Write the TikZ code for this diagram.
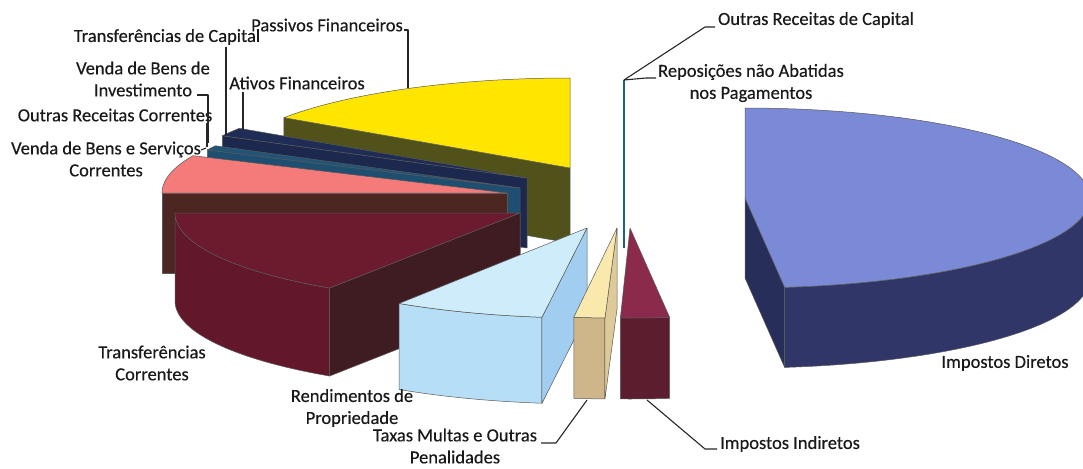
\documentclass[tikz,border=0pt]{standalone}
\usepackage{fontspec}
\setmainfont{Carlito}
\newfontfamily\lblfont{Carlito}[FakeBold=0.35]
\definecolor{dirTop}{RGB}{122,138,214}
\definecolor{dirWall}{RGB}{48,55,104}
\definecolor{dirSide}{RGB}{40,46,90}
\definecolor{indTop}{RGB}{140,42,76}
\definecolor{indWall}{RGB}{92,30,46}
\definecolor{taxTop}{RGB}{250,233,172}
\definecolor{taxWall}{RGB}{206,182,138}
\definecolor{taxSide}{RGB}{222,202,152}
\definecolor{renTop}{RGB}{206,236,250}
\definecolor{renWall}{RGB}{182,222,246}
\definecolor{renSide}{RGB}{160,205,240}
\definecolor{traTop}{RGB}{108,26,46}
\definecolor{traWall}{RGB}{98,24,42}
\definecolor{traSide}{RGB}{62,28,34}
\definecolor{pinkTop}{RGB}{245,122,122}
\definecolor{pinkSide}{RGB}{76,38,32}
\definecolor{tealTop}{RGB}{34,84,120}
\definecolor{tealSide}{RGB}{30,78,112}
\definecolor{navyTop}{RGB}{30,44,86}
\definecolor{navySide}{RGB}{28,40,78}
\definecolor{yelTop}{RGB}{255,230,0}
\definecolor{yelSide}{RGB}{80,82,26}
\definecolor{tinyCol}{RGB}{28,100,122}
\newcommand\PieA{345}
\newcommand\PieB{90}
\tikzset{
  faceline/.style={draw=black!65, line width=0.5pt, line join=round},
  leader/.style={draw=black!85, line width=1.1pt, line join=round},
  lbl/.style={font=\lblfont\fontsize{18.5}{22}\selectfont, text=black!90, inner sep=0pt, align=center},
}
% top face: cx, cy, t1, t2, colour
\newcommand\pieTop[5]{\path[faceline, fill=#5] (#1,#2) -- plot[domain=#3:#4,samples=60] ({#1+\PieA*cos(\x)},{#2-\PieB*sin(\x)}) -- cycle;}
% radial wall: cx, cy, t, h, colour
\newcommand\pieSide[5]{\path[faceline, fill=#5] (#1,#2) -- ({#1+\PieA*cos(#3)},{#2-\PieB*sin(#3)}) -- ({#1+\PieA*cos(#3)},{#2-\PieB*sin(#3)+#4}) -- (#1,{#2+#4}) -- cycle;}
% outer wall: cx, cy, t1, t2, h, colour
\newcommand\pieOuter[6]{\path[faceline, fill=#6] plot[domain=#3:#4,samples=60] ({#1+\PieA*cos(\x)},{#2-\PieB*sin(\x)}) -- plot[domain=#4:#3,samples=60] ({#1+\PieA*cos(\x)},{#2+#5-\PieB*sin(\x)}) -- cycle;}
\begin{document}
\begin{tikzpicture}[x=1pt,y=-1pt]
\useasboundingbox (0,0) rectangle (1083,468);
\clip (0,0) rectangle (1083,468);
% Passivos Financeiros
\pieSide{570}{168}{146}{75}{yelSide}
\pieTop{570}{168}{90}{146}{yelTop}
% Outras Receitas de Capital / Reposicoes (edge-on slivers)
\draw[tinyCol, line width=2pt] (624,80) -- (624,248);
% Transferencias de Capital
\pieSide{527}{178}{152}{70}{navySide}
\pieTop{527}{178}{146.5}{152}{navyTop}
% Outras Receitas Correntes
\pieSide{520}{188}{155}{70}{tealSide}
\pieTop{520}{188}{152}{155}{tealTop}
% Venda de Bens e Servicos Correntes
\pieSide{507}{193}{180}{80}{pinkSide}
\pieTop{507}{193}{155.5}{180}{pinkTop}
% Impostos Diretos
\pieSide{745}{198}{276.6}{80}{dirSide}
\pieOuter{745}{198}{276.6}{360}{80}{dirWall}
\pieTop{745}{198}{276.6}{450}{dirTop}
% Transferencias Correntes
\pieOuter{520}{213}{180}{236.5}{88}{traWall}
\pieSide{520}{213}{236.5}{88}{traSide}
\pieTop{520}{213}{180}{236.5}{traTop}
% Rendimentos de Propriedade
\pieOuter{587}{228}{237}{262.5}{86}{renWall}
\pieSide{587}{228}{262.5}{86}{renSide}
\pieTop{587}{228}{237}{262.5}{renTop}
% Taxas Multas e Outras Penalidades
\pieOuter{617}{228}{262.8}{268}{81}{taxWall}
\pieSide{617}{228}{268}{81}{taxSide}
\pieTop{617}{228}{262.8}{268}{taxTop}
% Impostos Indiretos
\pieOuter{630}{228}{268.4}{276.6}{81}{indWall}
\pieTop{630}{228}{268.4}{276.6}{indTop}

% labels
\node[lbl] (pf) at (327,25) {Passivos Financeiros};
\node[lbl] (tcap) at (167,37) {Transferências de Capital};
\node[lbl] (vbi) at (143,79) {Venda de Bens de\\Investimento};
\node[lbl] (af) at (297,83) {Ativos Financeiros};
\node[lbl] (orc) at (115,115) {Outras Receitas Correntes};
\node[lbl] (vbs) at (106,159) {Venda de Bens e Serviços\\Correntes};
\node[lbl] (orcap) at (816,20) {Outras Receitas de Capital};
\node[lbl] (rep) at (751,83) {Reposições não Abatidas\\nos Pagamentos};
\node[lbl] (idir) at (1005,363) {Impostos Diretos};
\node[lbl] (iind) at (790,444) {Impostos Indiretos};
\node[lbl] (tmo) at (455,446) {Taxas Multas e Outras\\Penalidades};
\node[lbl] (rp) at (352,408) {Rendimentos de\\Propriedade};
\node[lbl] (tcor) at (152,363) {Transferências\\Correntes};

% leader end points
\coordinate (pfTip) at (408,88);
\coordinate (tcapTip) at (226,135);
\coordinate (vbiTip) at (208,143);
\coordinate (afTip) at (243,130);
\coordinate (orcTip) at (207,147);
\coordinate (vbsTip) at (206,148);
\coordinate (capTip) at (624,80);
\coordinate (iindTip) at (647,400);
\coordinate (tmoTip) at (587,400);

\draw[leader] (404,30) -| (pfTip);
\draw[leader] (226,47) -- (tcapTip);
\draw[leader] (197,95) -| (vbiTip);
\draw[leader] (243,92) -- (afTip);
\draw[leader] (207,123) -- (orcTip);
\draw[leader] (201,150) -- (vbsTip);
\draw[leader] (715,27) -- (705,27) -- (capTip);
\draw[leader] (656,78) -- (646,78) -- (capTip);
\draw[leader] (717,449) -- (705,449) -- (iindTip);
\draw[leader] (541,443) -- (556,443) -- (tmoTip);
\end{tikzpicture}
\end{document}
